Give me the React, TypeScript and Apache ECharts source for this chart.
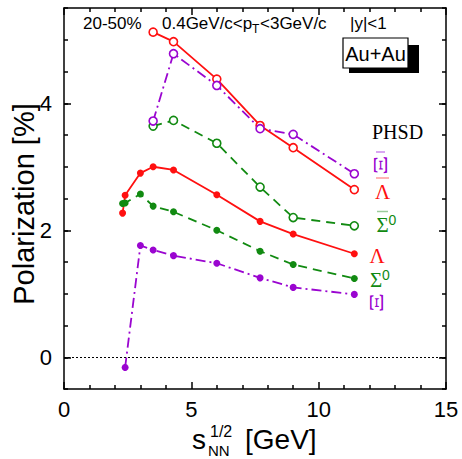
import React, { useEffect, useRef } from "react";
import * as echarts from "echarts";

// ---- data ----
const antiX = [3.5, 4.3, 6.0, 7.7, 9.0, 11.4];
const antiLambdaY = [5.12, 4.97, 4.38, 3.65, 3.3, 2.64];
const antiXiY = [3.72, 4.78, 4.28, 3.6, 3.51, 2.89];
const antiSigmaY = [3.64, 3.73, 3.37, 2.68, 2.2, 2.07];

const lambdaX = [2.3, 2.4, 3.0, 3.5, 4.3, 6.0, 7.7, 9.0, 11.4];
const lambdaY = [2.27, 2.55, 2.9, 3.0, 2.95, 2.56, 2.14, 1.94, 1.63];
const sigmaX = [2.3, 2.4, 3.0, 3.5, 4.3, 6.0, 7.7, 9.0, 11.4];
const sigmaY = [2.42, 2.43, 2.57, 2.38, 2.29, 2.0, 1.67, 1.46, 1.24];
const xiX = [2.4, 3.0, 3.5, 4.3, 6.0, 7.7, 9.0, 11.4];
const xiY = [-0.16, 1.76, 1.69, 1.6, 1.48, 1.25, 1.1, 0.99];

const yMajorTicks = [0, 2, 4];

const RED = "#ff1010";
const GREEN = "#118a11";
const VIOLET = "#9a05d0";

const SANS = "Liberation Sans";
const SERIF = "Liberation Serif";

const pairs = (xs: number[], ys: number[]) => xs.map((x, i) => [x, ys[i]]);

function lineSeries(name: string, xs: number[], ys: number[], color: string, dash: any, open: boolean, extra: any = {}) {
  return {
    name,
    type: "line",
    data: pairs(xs, ys),
    xAxisIndex: 0,
    yAxisIndex: 0,
    symbol: "circle",
    symbolSize: open ? 8 : 7,
    showSymbol: true,
    z: open ? 4 : 3,
    lineStyle: { color, width: 1.8, type: dash },
    itemStyle: open
      ? { color: "#fff", borderColor: color, borderWidth: 1.6 }
      : { color, borderColor: color, borderWidth: 0 },
    ...extra,
  };
}

export default function App() {
  const ref = useRef<HTMLDivElement>(null);
  useEffect(() => {
    if (!ref.current) return;
    const chart = echarts.init(ref.current, null, { renderer: "svg" });
    const axisLineStyle = { color: "#000", width: 1.5 };
    const tickStyle = { color: "#000", width: 1.5 };
    const yBase = {
      type: "value",
      min: -0.5,
      max: 5.5,
      interval: 0.5,
      splitLine: { show: false },
    };
    const xBase = {
      type: "value",
      min: 0,
      max: 15,
      interval: 5,
      splitLine: { show: false },
      minorSplitLine: { show: false },
      axisLine: { show: true, onZero: false, lineStyle: axisLineStyle },
      axisTick: { show: true, inside: true, length: 7, lineStyle: tickStyle },
      minorTick: { show: true, splitNumber: 5, length: 4, lineStyle: tickStyle },
    };
    const xiGlyph = (x: number, y: number) => ({
      type: "text",
      x,
      y,
      rotation: Math.PI / 2,
      scaleY: 0.62,
      style: { text: "Ξ", font: `30px ${SERIF}`, fill: VIOLET, textAlign: "center", textVerticalAlign: "middle" },
    });
    const option: any = {
      animation: false,
      backgroundColor: "#fff",
      grid: { left: 64, right: 16, top: 8, bottom: 70 },
      xAxis: [
        {
          ...xBase,
          position: "bottom",
          axisLabel: { show: true, fontSize: 22, color: "#000", fontFamily: SANS, margin: 9 },
        },
        {
          ...xBase,
          position: "top",
          axisLabel: { show: false },
        },
      ],
      yAxis: [
        {
          ...yBase,
          position: "left",
          axisLine: { show: true, onZero: false, lineStyle: axisLineStyle },
          axisTick: { show: true, inside: true, length: 7, lineStyle: tickStyle, customValues: yMajorTicks },
          axisLabel: { show: true, fontSize: 22, color: "#000", fontFamily: SANS, margin: 12, customValues: yMajorTicks },
        },
        {
          ...yBase,
          position: "left",
          axisLine: { show: false, onZero: false },
          axisTick: { show: true, inside: true, length: 4, lineStyle: tickStyle },
          axisLabel: { show: false },
        },
        {
          ...yBase,
          position: "right",
          axisLine: { show: true, onZero: false, lineStyle: axisLineStyle },
          axisTick: { show: true, inside: true, length: 7, lineStyle: tickStyle, customValues: yMajorTicks },
          axisLabel: { show: false },
        },
        {
          ...yBase,
          position: "right",
          axisLine: { show: false, onZero: false },
          axisTick: { show: true, inside: true, length: 4, lineStyle: tickStyle },
          axisLabel: { show: false },
        },
      ],
      series: [
        lineSeries("Λ", lambdaX, lambdaY, RED, "solid", false, {
          markLine: {
            silent: true,
            symbol: ["none", "none"],
            label: { show: false },
            lineStyle: { type: [2, 2], color: "#000", width: 1.2 },
            data: [{ yAxis: 0 }],
          },
        }),
        lineSeries("Σ0", sigmaX, sigmaY, GREEN, [9, 6], false),
        lineSeries("Ξ", xiX, xiY, VIOLET, [10, 4, 2, 4], false),
        lineSeries("anti-Λ", antiX, antiLambdaY, RED, "solid", true),
        lineSeries("anti-Σ0", antiX, antiSigmaY, GREEN, [9, 6], true),
        lineSeries("anti-Ξ", antiX, antiXiY, VIOLET, [10, 4, 2, 4], true),
      ],
      graphic: [
        // header texts
        { type: "text", x: 83, y: 23, style: { text: "20-50%", font: `17px ${SANS}`, fill: "#000", textVerticalAlign: "middle" } },
        { type: "text", x: 162, y: 23, style: { text: "0.4GeV/c<p", font: `17px ${SANS}`, fill: "#000", textVerticalAlign: "middle" } },
        { type: "text", x: 252, y: 29, style: { text: "T", font: `12px ${SANS}`, fill: "#000", textVerticalAlign: "middle" } },
        { type: "text", x: 260, y: 23, style: { text: "<3GeV/c", font: `17px ${SANS}`, fill: "#000", textVerticalAlign: "middle" } },
        { type: "text", x: 350, y: 23, style: { text: "|y|<1", font: `17px ${SANS}`, fill: "#000", textVerticalAlign: "middle" } },
        // Au+Au box with shadow
        { type: "rect", shape: { x: 349, y: 45, width: 70, height: 28 }, style: { fill: "#000" } },
        { type: "rect", shape: { x: 343, y: 38, width: 65, height: 30 }, style: { fill: "#fff", stroke: "#000", lineWidth: 1.2 } },
        { type: "text", x: 375.5, y: 53.5, style: { text: "Au+Au", font: `20px ${SANS}`, fill: "#000", textAlign: "center", textVerticalAlign: "middle" } },
        // PHSD legend
        { type: "text", x: 372, y: 132, style: { text: "PHSD", font: `20px ${SERIF}`, fill: "#000", textVerticalAlign: "middle" } },
        // anti-Xi
        { type: "line", shape: { x1: 376, y1: 152, x2: 385, y2: 152 }, style: { stroke: "#cc88ee", lineWidth: 1.5 } },
        xiGlyph(380.5, 165),
        // anti-Lambda
        { type: "line", shape: { x1: 376, y1: 178, x2: 389, y2: 178 }, style: { stroke: "#ff9a9a", lineWidth: 1.5 } },
        { type: "text", x: 382.5, y: 192, style: { text: "Λ", font: `21px ${SERIF}`, fill: RED, textAlign: "center", textVerticalAlign: "middle" } },
        // anti-Sigma0
        { type: "line", shape: { x1: 377, y1: 211.5, x2: 388, y2: 211.5 }, style: { stroke: "#9ccc9c", lineWidth: 1.5 } },
        { type: "text", x: 382.5, y: 224.5, style: { text: "Σ", font: `21px ${SERIF}`, fill: GREEN, textAlign: "center", textVerticalAlign: "middle" } },
        { type: "text", x: 388.5, y: 219.5, style: { text: "0", font: `14px ${SANS}`, fill: GREEN, textVerticalAlign: "middle" } },
        // Lambda
        { type: "text", x: 377, y: 255.5, style: { text: "Λ", font: `21px ${SERIF}`, fill: RED, textAlign: "center", textVerticalAlign: "middle" } },
        // Sigma0
        { type: "text", x: 376, y: 279.5, style: { text: "Σ", font: `21px ${SERIF}`, fill: GREEN, textAlign: "center", textVerticalAlign: "middle" } },
        { type: "text", x: 382, y: 275, style: { text: "0", font: `14px ${SANS}`, fill: GREEN, textVerticalAlign: "middle" } },
        // Xi
        xiGlyph(376.5, 302.5),
        // y axis name
        { type: "text", x: 24, y: 204, rotation: Math.PI / 2, style: { text: "Polarization [%]", font: `29px ${SANS}`, fill: "#000", textAlign: "center", textVerticalAlign: "middle" } },
        // x axis name
        { type: "text", x: 192, y: 439, style: { text: "s", font: `28px ${SANS}`, fill: "#000", textVerticalAlign: "middle" } },
        { type: "text", x: 208, y: 450, style: { text: "NN", font: `15px ${SANS}`, fill: "#000", textVerticalAlign: "middle" } },
        { type: "text", x: 210, y: 431, style: { text: "1/2", font: `16px ${SANS}`, fill: "#000", textVerticalAlign: "middle" } },
        { type: "text", x: 245, y: 439, style: { text: "[GeV]", font: `28px ${SANS}`, fill: "#000", textVerticalAlign: "middle" } },
      ],
    };
    chart.setOption(option);
    return () => chart.dispose();
  }, []);
  return (
    <div
      ref={ref}
      style={{ position: "fixed", left: 0, top: 0, width: 462, height: 459, background: "#fff" }}
    />
  );
}
